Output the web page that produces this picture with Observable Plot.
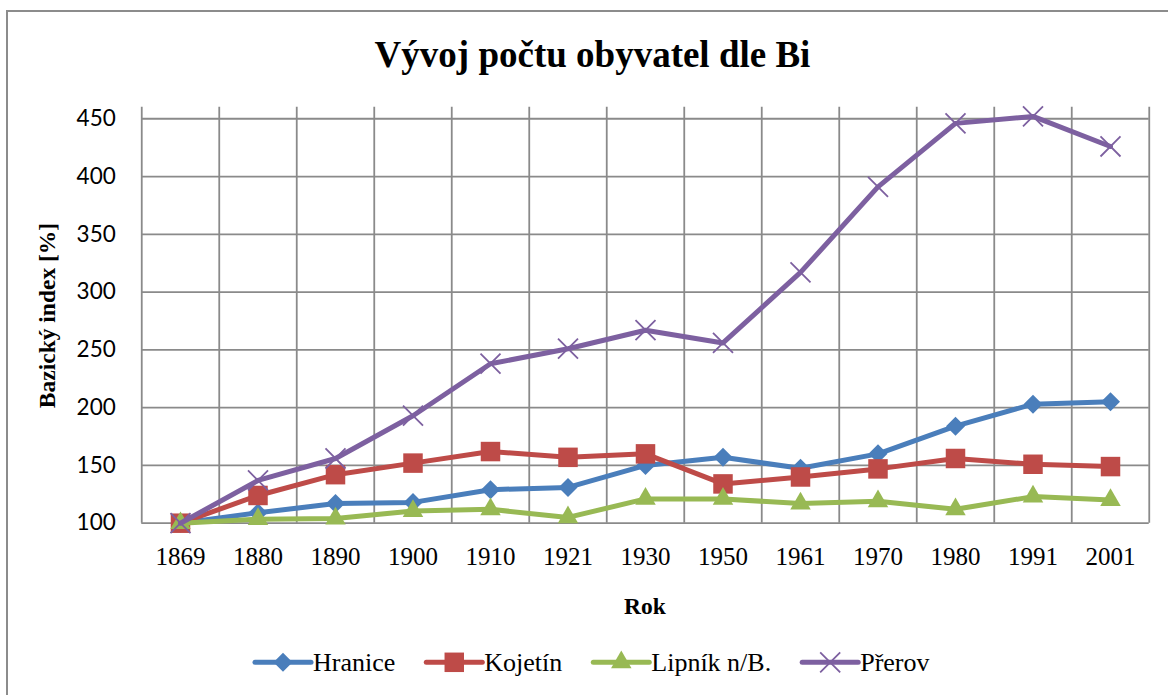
<!DOCTYPE html>
<html><head><meta charset="utf-8">
<script src="https://cdn.jsdelivr.net/npm/d3@7"></script>
<script src="https://cdn.jsdelivr.net/npm/@observablehq/plot@0.6"></script>
<style>
html,body{margin:0;padding:0;background:#fff;}
#wrap{position:relative;width:1168px;height:695px;overflow:hidden;background:#fff;}
#border{position:absolute;left:6px;top:10px;width:1300px;height:900px;border:2px solid #8c8c8c;box-sizing:border-box;}
#plot{position:absolute;left:0;top:0;}
#overlay{position:absolute;left:0;top:0;pointer-events:none;}
#overlay text{font-family:"Liberation Serif","Times New Roman",serif;}
</style></head><body>
<div id="wrap"><div id="border"></div><div id="plot"></div><svg id="overlay" width="1168" height="695"></svg></div>
<script>
const years = ["1869","1880","1890","1900","1910","1921","1930","1950","1961","1970","1980","1991","2001"];
const hranice = [100, 109, 117, 118, 129, 131, 150, 157, 147.5, 160, 184, 203, 205];
const kojetin = [100, 124, 142, 152, 162, 157, 160, 134, 140, 147, 156, 151, 149];
const lipnik  = [100, 103.5, 104, 110.5, 112, 105, 121, 121, 117, 119, 112, 123, 120];
const prerov  = [100, 137, 156, 193, 238, 251, 267, 256, 317, 391, 446, 452, 426];
const yTicks = [100,150,200,250,300,350,400,450];
const seriesNames = ["Hranice","Kojetín","Lipník n/B.","Přerov"];
const titleText = "Vývoj počtu obyvatel dle Bi";
const xTitle = "Rok";
const yTitle = "Bazický index [%]";

const grid = "#8a8a8a";
const series = [
  {name: seriesNames[0], values: hranice, color: "#4A7EBB", symbol: "diamond2", r: 8.56, filled: true},
  {name: seriesNames[1], values: kojetin, color: "#BE4B48", symbol: "square", r: 11.0, filled: true},
  {name: seriesNames[2], values: lipnik, color: "#98B954", symbol: "triangle", r: 7.6, filled: true},
  {name: seriesNames[3], values: prerov, color: "#7D60A0", symbol: "times", r: 9.15, filled: false}
];

const idx = d3.range(years.length);
const bounds = d3.range(years.length + 1).map(i => i - 0.5);

const marks = [
  Plot.ruleY(yTicks, {stroke: grid, strokeWidth: 1.8}),
  Plot.ruleX(bounds, {stroke: grid, strokeWidth: 1.8}),
  Plot.axisY({ticks: yTicks, tickSize: 0, tickPadding: 26, fontSize: 22.5, label: null}),
  Plot.axisX({ticks: idx, tickFormat: i => years[i], tickSize: 0, tickPadding: 24, fontSize: 25, label: null})
];
for (const s of series) {
  const d = s.values.map((v, i) => ({i, v}));
  marks.push(Plot.line(d, {x: "i", y: "v", stroke: s.color, strokeWidth: 5, strokeLinejoin: "round", strokeLinecap: "round"}));
  marks.push(Plot.dot(d, s.filled
    ? {x: "i", y: "v", symbol: s.symbol, r: s.r, fill: s.color, stroke: "none"}
    : {x: "i", y: "v", symbol: s.symbol, r: s.r, fill: "none", stroke: s.color, strokeWidth: 1.8}));
}

const chart = Plot.plot({
  width: 1168, height: 640,
  marginTop: 106.7, marginBottom: 117.3, marginLeft: 141.25, marginRight: 19.25,
  x: {type: "linear", domain: [-0.5, years.length - 0.5], label: null},
  y: {domain: [100, 460], label: null},
  style: {background: "transparent", color: "black", overflow: "visible"},
  marks
});
document.getElementById("plot").appendChild(chart);
d3.select(chart).selectAll('[aria-label="x-axis tick label"], [aria-label="x-axis tick label"] text')
  .style("font-family", "'Liberation Serif', 'Times New Roman', serif").style("font-size", "25px");
d3.select(chart).selectAll('[aria-label="y-axis tick label"], [aria-label="y-axis tick label"] text')
  .style("font-family", "Lato, 'Open Sans', sans-serif").style("font-size", "22.5px");

// Title, axis titles and legend
const ov = d3.select("#overlay");
ov.append("text").attr("x", 592.5).attr("y", 66.7).attr("text-anchor", "middle")
  .attr("font-weight", "bold").attr("font-size", 37).text(titleText);
ov.append("text").attr("x", 645).attr("y", 614).attr("text-anchor", "middle")
  .attr("font-weight", "bold").attr("font-size", 23.5).text(xTitle);
ov.append("text").attr("transform", "translate(55,315.5) rotate(-90)").attr("text-anchor", "middle")
  .attr("font-weight", "bold").attr("font-size", 23.5).text(yTitle);

const symMap = {diamond2: d3.symbolDiamond2, square: d3.symbolSquare, triangle: d3.symbolTriangle, times: d3.symbolTimes};
let lx = 255;
const ly = 662.3;
for (const s of series) {
  const g = ov.append("g");
  g.append("line").attr("x1", lx).attr("x2", lx + 56).attr("y1", ly).attr("y2", ly)
    .attr("stroke", s.color).attr("stroke-width", 5).attr("stroke-linecap", "round");
  const p = g.append("path").attr("transform", `translate(${lx + 28},${ly})`)
    .attr("d", d3.symbol(symMap[s.symbol], s.r * s.r * Math.PI)());
  if (s.filled) p.attr("fill", s.color); else p.attr("fill", "none").attr("stroke", s.color).attr("stroke-width", 1.8);
  const t = g.append("text").attr("x", lx + 58).attr("y", 670.7)
    .attr("font-size", 26).text(s.name);
  lx += 58 + t.node().getComputedTextLength() + 31;
}
</script>
</body></html>
